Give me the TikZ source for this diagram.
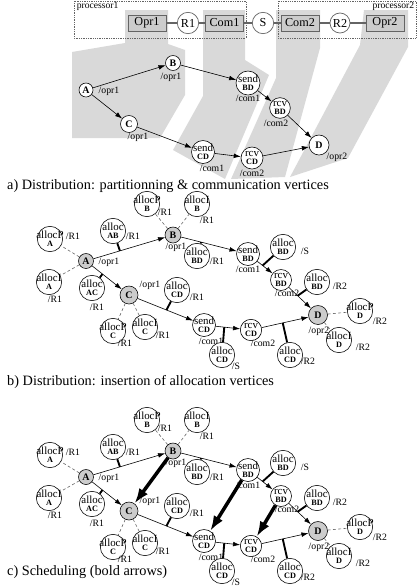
\documentclass[tikz,border=0pt]{standalone}
\usepackage{fontspec}
\setmainfont{Liberation Serif}
\usepackage{tikz}
\usetikzlibrary{arrows.meta,positioning,calc}
\definecolor{bandgray}{RGB}{217,217,217}
\definecolor{boxgray}{RGB}{204,204,204}
\definecolor{wiregray}{RGB}{100,100,100}
\newcommand{\vb}[1]{{\fontsize{7}{7}\selectfont\bfseries #1}}

% the graph with allocation vertices, drawn in b) and c)
\newcommand{\allocgraph}[1]{%
  %% operations and communications
  \node[opv,minimum size=0.45cm] (#1A) at (86,261) {A};
  \node[opv,minimum size=0.48cm] (#1B) at (173,235) {B};
  \node[opv,minimum size=0.54cm] (#1C) at (129,295) {C};
  \node[opv,minimum size=0.57cm] (#1D) at (318,315) {D};
  \node[comv] (#1sBD) at (248,254) {send\\\vb{BD}};
  \node[comv,minimum size=0.63cm] (#1rBD) at (281,280) {rcv\\\vb{BD}};
  \node[comv] (#1sCD) at (204,325) {send\\\vb{CD}};
  \node[comv,minimum size=0.64cm] (#1rCD) at (251,330) {rcv\\\vb{CD}};
  \node[lbl] (#1lA) at (109,262) {/opr1};
  \node[lbl] (#1lB) at (176,247) {/opr1};
  \node[lbl] (#1lC) at (150,285) {/opr1};
  \node[lbl] (#1lD) at (319,331) {/opr2};
  \node[lbl] (#1lsBD) at (248,269) {/com1};
  \node[lbl] (#1lrBD) at (287,293) {/com2};
  \node[lbl] (#1lsCD) at (211,341) {/com1};
  \node[lbl] (#1lrCD) at (263,343) {/com2};
  %% allocation vertices
  \node[allocv] (#1PA) at (50,239) {allocP\\\vb{A}};
  \node[allocv] (#1IA) at (49,282) {allocI\\\vb{A}};
  \node[allocv] (#1AB) at (113,231) {alloc\\\vb{AB}};
  \node[allocv] (#1AC) at (92,288) {alloc\\\vb{AC}};
  \node[allocv] (#1PB) at (147,204) {allocP\\\vb{B}};
  \node[allocv] (#1IB) at (197,204) {allocI\\\vb{B}};
  \node[allocv] (#1BD) at (197,256) {alloc\\\vb{BD}};
  \node[allocv] (#1CD) at (177,290) {alloc\\\vb{CD}};
  \node[allocv] (#1PC) at (113,331) {allocP\\\vb{C}};
  \node[allocv] (#1IC) at (145,327) {allocI\\\vb{C}};
  \node[allocv] (#1BDS) at (283,247) {alloc\\\vb{BD}};
  \node[allocv] (#1BDR) at (317,282) {alloc\\\vb{BD}};
  \node[allocv] (#1PD) at (360,311) {allocP\\\vb{D}};
  \node[allocv] (#1ID) at (339,340) {allocI\\\vb{D}};
  \node[allocv] (#1CDS) at (222,355) {alloc\\\vb{CD}};
  \node[allocv] (#1CDR) at (290,355) {alloc\\\vb{CD}};
  \node[lbl] (#1lPA) at (73,236) {/R1};
  \node[lbl] (#1lIA) at (55,299) {/R1};
  \node[lbl] (#1lAB) at (133,236) {/R1};
  \node[lbl] (#1lAC) at (97,307) {/R1};
  \node[lbl] (#1lPB) at (165,212) {/R1};
  \node[lbl] (#1lIB) at (207,220) {/R1};
  \node[lbl] (#1lBD) at (217,261) {/R1};
  \node[lbl] (#1lCD) at (197,297) {/R1};
  \node[lbl] (#1lPC) at (125,343) {/R1};
  \node[lbl] (#1lIC) at (163,335) {/R1};
  \node[lbl] (#1lBDS) at (305,251) {/S};
  \node[lbl] (#1lBDR) at (340,286) {/R2};
  \node[lbl] (#1lPD) at (380,321) {/R2};
  \node[lbl] (#1lID) at (363,347) {/R2};
  \node[lbl] (#1lCDS) at (236,366) {/S};
  \node[lbl] (#1lCDR) at (308,361) {/R2};
  %% precedences
  \draw[arr] (#1A) -- coordinate[pos=.37] (#1ab) (#1B);
  \draw[arr] (#1A) -- coordinate[pos=.35] (#1ac) (#1C);
  \draw[arr] (#1B) -- coordinate[pos=.36] (#1bd) (#1sBD);
  \draw[arr] (#1C) -- coordinate[pos=.52] (#1cd) (#1sCD);
  \draw[arr] (#1sBD) -- coordinate[pos=.35] (#1bds) (#1rBD);
  \draw[arr] (#1rBD) -- coordinate[pos=.4] (#1bdr) (#1D);
  \draw[arr] (#1sCD) -- coordinate[pos=.35] (#1cds) (#1rCD);
  \draw[arr] (#1rCD) -- coordinate[pos=.45] (#1cdr) (#1D);
  \draw[tick] (#1AB) -- (#1ab);
  \draw[tick] (#1AC) -- (#1ac);
  \draw[tick] (#1BD) -- (#1bd);
  \draw[tick] (#1CD) -- (#1cd);
  \draw[tick] (#1BDS) -- (#1bds);
  \draw[tick] (#1BDR) -- (#1bdr);
  \draw[tick] (#1CDS) -- (#1cds);
  \draw[tick] (#1CDR) -- (#1cdr);
  \draw[dep] (#1A) -- (#1PA);
  \draw[dep] (#1A) -- (#1IA);
  \draw[dep] (#1B) -- (#1PB);
  \draw[dep] (#1B) -- (#1IB);
  \draw[dep] (#1C) -- (#1PC);
  \draw[dep] (#1C) -- (#1IC);
  \draw[dep] (#1D) -- (#1PD);
  \draw[dep] (#1D) -- (#1ID);
}

\begin{document}
\begin{tikzpicture}[x=0.03cm,y=-0.03cm,
    vtx/.style={circle,draw,fill=white,inner sep=0pt,line width=0.5pt,
      font=\fontsize{8.5}{8.5}\selectfont\bfseries},
    opv/.style={vtx,fill=boxgray},
    comv/.style={circle,draw,fill=white,inner sep=-1.5pt,minimum size=0.69cm,
      line width=0.5pt,align=center,font=\fontsize{9.3}{7}\selectfont},
    allocv/.style={comv,inner sep=-2pt,minimum size=0.76cm},
    lbl/.style={inner sep=0.5pt,font=\fontsize{8.3}{8.3}\selectfont},
    captxt/.style={inner sep=0pt,font=\fontsize{12.2}{13}\selectfont},
    arr/.style={line width=0.5pt,-{Latex[length=6pt,width=4pt]}},
    tick/.style={line width=1.6pt},
    dep/.style={line width=0.5pt,draw=wiregray,dash pattern=on 2.5pt off 2pt},
    sched/.style={line width=3pt,-{Latex[length=13pt,width=9pt]}},
    band/.style={fill=bandgray},
    procframe/.style={draw=wiregray,densely dotted,line width=0.5pt},
    res/.style={draw=wiregray,fill=boxgray,line width=0.8pt,minimum width=1.14cm,
      minimum height=0.48cm,inner sep=0pt,font=\fontsize{10.4}{10.4}\selectfont},
    link/.style={circle,draw=wiregray,fill=white,line width=0.6pt,inner sep=0pt,
      minimum size=0.64cm,font=\fontsize{10.4}{10.4}\selectfont},
    wire/.style={draw=wiregray,line width=0.9pt}]
  \useasboundingbox (0,0) rectangle (417,588);

  %% a) partitioning bands
  \fill[band] (125,10) -- (168,10) -- (168,44) -- (185,50) -- (185,95)
    -- (160,138) -- (72,138) -- (72,52) -- (125,43) -- cycle;
  \fill[band] (203,10) -- (245,10) -- (245,60) -- (269,75) -- (225,179)
    -- (173,150) -- (203,96) -- cycle;
  \fill[band] (276,10) -- (320,10) -- (320,48) -- (285,177) -- (231,179)
    -- (276,78) -- cycle;
  \fill[band] (364,10) -- (408,10) -- (408,47) -- (348,158) -- (290,177)
    -- (360,45) -- cycle;

  %% architecture
  \draw[procframe] (74,1) rectangle (246,38);
  \draw[procframe] (278,1) rectangle (416,38);
  \node[lbl,anchor=north west,font=\fontsize{8.2}{8.2}\selectfont] (p1) at (76,1.5) {processor1};
  \node[lbl,anchor=north east,font=\fontsize{8.2}{8.2}\selectfont] (p2) at (415,1.5) {processor2};
  \node[res] (opr1) at (147,23) {Opr1};
  \node[link] (r1) at (188,23) {R1};
  \node[res] (com1) at (224.5,23) {Com1};
  \node[link] (s) at (263,23) {S};
  \node[res] (com2) at (300,23) {Com2};
  \node[link,minimum size=0.6cm] (r2) at (340,23) {R2};
  \node[res] (opr2) at (385,23) {Opr2};
  \draw[wire] (opr1) -- (r1) -- (com1) -- (s) -- (com2) -- (r2) -- (opr2);

  %% a) algorithm graph
  \node[vtx,minimum size=0.42cm] (A) at (86,90) {A};
  \node[vtx,minimum size=0.45cm] (B) at (173,63) {B};
  \node[vtx,minimum size=0.51cm] (C) at (129,124) {C};
  \node[vtx,minimum size=0.6cm] (D) at (319,145) {D};
  \node[comv,minimum size=0.72cm] (sBD) at (248,83) {send\\\vb{BD}};
  \node[comv,minimum size=0.62cm] (rBD) at (280,108) {rcv\\\vb{BD}};
  \node[comv] (sCD) at (203,152) {send\\\vb{CD}};
  \node[comv,minimum size=0.66cm] (rCD) at (252,158) {rcv\\\vb{CD}};
  \node[lbl] (lA) at (109,91) {/opr1};
  \node[lbl] (lB) at (171,77) {/opr1};
  \node[lbl] (lC) at (138,137) {/opr1};
  \node[lbl] (lD) at (337,157) {/opr2};
  \node[lbl] (lsBD) at (248,98) {/com1};
  \node[lbl] (lrBD) at (276,123) {/com2};
  \node[lbl] (lsCD) at (212,168) {/com1};
  \node[lbl] (lrCD) at (252,173) {/com2};
  \draw[arr] (A) -- (B);
  \draw[arr] (A) -- (C);
  \draw[arr] (B) -- (sBD);
  \draw[arr] (sBD) -- (rBD);
  \draw[arr] (rBD) -- (D);
  \draw[arr] (C) -- (sCD);
  \draw[arr] (sCD) -- (rCD);
  \draw[arr] (rCD) -- (D);
  \node[captxt,anchor=west] (capa) at (7,186)
    {a) Distribution: partitionning \& communication vertices};

  %% b) allocation vertices
  \allocgraph{b}
  \node[captxt,anchor=west] (capb) at (7,382)
    {b) Distribution: insertion of allocation vertices};

  %% c) scheduling
  \begin{scope}[shift={(0,216)}]
    \allocgraph{c}
  \end{scope}
  \draw[sched] (cB) -- (cC);
  \draw[sched] (csBD) -- (csCD);
  \draw[sched] (crBD) -- (crCD);
  \node[captxt,anchor=west] (capc) at (7,572) {c) Scheduling (bold arrows)};
\end{tikzpicture}
\end{document}
